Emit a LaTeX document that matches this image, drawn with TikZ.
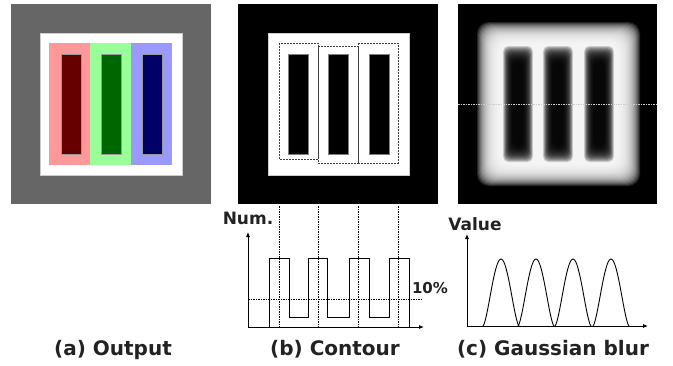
\documentclass[tikz,border=0pt]{standalone}
\usepackage{fontspec}
\setmainfont{DejaVu Sans}
\usetikzlibrary{arrows.meta, positioning, calc}

\definecolor{bggray}{HTML}{666666}
\definecolor{redlt}{HTML}{FF9999}
\definecolor{greenlt}{HTML}{99FF99}
\definecolor{bluelt}{HTML}{9999FF}
\definecolor{reddk}{HTML}{660000}
\definecolor{greendk}{HTML}{006600}
\definecolor{bluedk}{HTML}{000066}
\definecolor{txt}{HTML}{222222}

\begin{document}
\begin{tikzpicture}[x=1pt, y=-1pt,
    stripe/.style={draw=none},
    darkbar/.style={draw=black!40, line width=0.4pt},
    cbox/.style={draw=black!75, dash pattern=on 2pt off 1pt, line width=0.7pt},
    axis/.style={-{Latex[length=5pt,width=4pt]}, line width=0.8pt},
    guide/.style={dash pattern=on 1.5pt off 1pt, line width=0.6pt},
    wave/.style={line width=0.9pt, line join=miter},
    caption/.style={font=\bfseries\fontsize{20}{24}\selectfont, text=txt, anchor=base},
    axlabel/.style={font=\bfseries\fontsize{17}{20}\selectfont, text=txt}
]
    \useasboundingbox (0,0) rectangle (673,365);

    % (a) output
    \begin{scope}[shift={(11,4)}]
        \fill[bggray] (0,0) rectangle (200,200);
        \filldraw[fill=white, draw=black!20] (29,29) rectangle (171,171);
        \fill[redlt] (38,39) rectangle (79,161);
        \fill[greenlt] (79,39) rectangle (120,161);
        \fill[bluelt] (120,39) rectangle (161,161);
        \filldraw[darkbar, fill=reddk] (50,50) rectangle (70,150);
        \filldraw[darkbar, fill=greendk] (90,50) rectangle (110,150);
        \filldraw[darkbar, fill=bluedk] (131,50) rectangle (151,150);
    \end{scope}

    % (b) contour
    \begin{scope}[shift={(238,4)}]
        \fill[black] (0,0) rectangle (200,200);
        \filldraw[fill=white, draw=black!20] (30,29) rectangle (171,171);
        \foreach \bx in {50,90,131}
            \filldraw[fill=black, draw=black!50] (\bx,50) rectangle (\bx+20,150);
        \draw[cbox] (41,39) rectangle (80,155);
        \draw[cbox] (80,42) rectangle (120,159);
        \draw[cbox] (120,39) rectangle (160,159);
    \end{scope}

    % (c) gaussian blur
    \begin{scope}[shift={(458,4)}]
        \fill[black] (0,0) rectangle (199,200);
        \foreach \k in {-11,...,11}
            \fill[white, fill opacity=0.14, rounded corners=12pt]
                (30+\k,29+\k) rectangle (171-\k,171-\k);
        \foreach \bx in {50,90,131}
            \foreach \k in {-8,...,8}
                \fill[black, fill opacity=0.17, rounded corners=5pt]
                    (\bx+0.6*\k,50+\k) rectangle (\bx+20-0.6*\k,150-\k);
        \draw[white!80!black, guide, line width=0.9pt] (0,100) -- (199,100);
    \end{scope}

    % histogram of the contour
    \coordinate (o1) at (248,327);
    \coordinate (y1) at (248,232);
    \coordinate (x1) at (424,327);
    \draw[axis] (o1) -- (y1);
    \draw[axis] (o1) -- (x1);
    \foreach \gx in {279,318,358,398}
        \draw[guide] (\gx,206) -- (\gx,327);
    \draw[guide] (248,299) -- (421,299);
    \draw[wave] (269,327) -- (269,258) -- (289,258) -- (289,317) -- (308,317)
        -- (308,258) -- (327,258) -- (327,317) -- (349,317) -- (349,258)
        -- (369,258) -- (369,317) -- (389,317) -- (389,258) -- (409,258)
        -- (409,327);
    \node[axlabel] (num) at (248,218) {Num.};
    \node[axlabel, font=\bfseries\fontsize{15}{18}\selectfont] (pct) at (430,288) {10\%};

    % profile of the blur
    \coordinate (o2) at (467,326);
    \coordinate (y2) at (467,234);
    \coordinate (x2) at (648,326);
    \draw[axis] (o2) -- (y2);
    \draw[axis] (o2) -- (x2);
    \foreach \px in {483,518,555,593}
        \draw[wave, line join=round] plot[domain=0:1, samples=41]
            ({\px+36*\x}, {326-67*pow(sin(180*\x),1.5)});
    \node[axlabel] (val) at (475,224) {Value};

    % captions
    \node[caption] (capa) at (113,355) {(a) Output};
    \node[caption] (capb) at (335,355) {(b) Contour};
    \node[caption] (capc) at (553,355) {(c) Gaussian blur};
\end{tikzpicture}
\end{document}
